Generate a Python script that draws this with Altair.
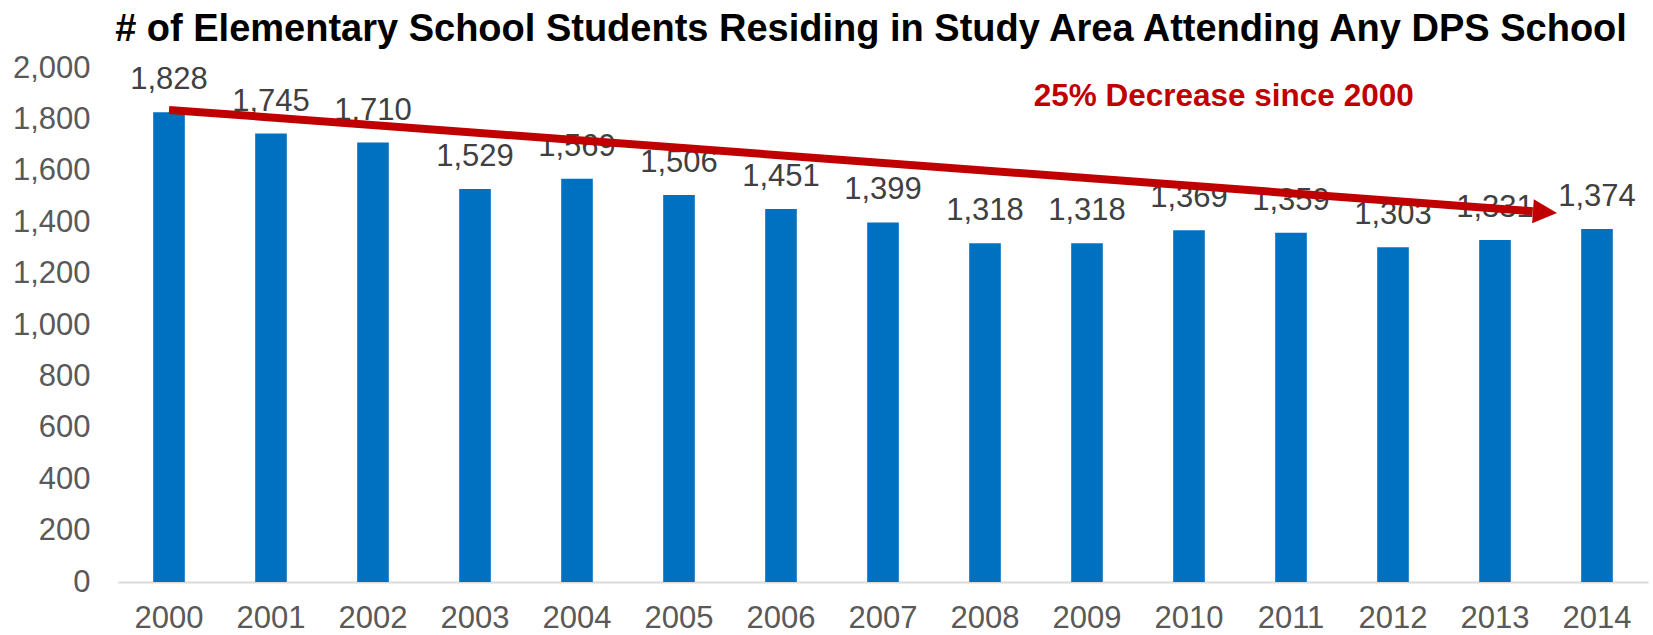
import altair as alt
import pandas as pd

# ---- data ----
years = [str(y) for y in range(2000, 2015)]
students = [1828, 1745, 1710, 1529, 1569, 1506, 1451, 1399, 1318, 1318,
            1369, 1359, 1303, 1331, 1374]
y_ticks = [0, 200, 400, 600, 800, 1000, 1200, 1400, 1600, 1800, 2000]

# annotation (trend arrow) in data units: x is category index (0..15)
arrow_x = [0.5, 13.87]
arrow_y = [1837, 1443]
head_x = [13.99]
head_y = [1439]
note_text = ["25% Decrease since 2000"]
note_x = [10.84]
note_y = [1887]

title_text = "# of Elementary School Students Residing in Study Area Attending Any DPS School"

FONT = "Liberation Sans"

bars_df = pd.DataFrame({"year": years, "students": students})
arrow_df = pd.DataFrame({"ix": arrow_x, "val": arrow_y})
head_df = pd.DataFrame({"ix": head_x, "val": head_y})
note_df = pd.DataFrame({"ix": note_x, "val": note_y, "txt": note_text})

yscale = alt.Scale(domain=[0, 2000], nice=False, zero=True)
xq = alt.Scale(domain=[0, 15], nice=False, zero=False)
yaxis = alt.Axis(title=None, values=y_ticks, format=",d", grid=False, domain=False,
                 ticks=False, labelFont=FONT, labelFontSize=31,
                 labelColor="#595959", labelPadding=28)

base = alt.Chart(bars_df)

bars = base.mark_bar(color="#0070C0").encode(
    x=alt.X("year:N", sort=years,
            scale=alt.Scale(paddingInner=0.69, paddingOuter=0.345),
            axis=alt.Axis(title=None, labelAngle=0, labelFont=FONT, labelFontSize=31,
                          labelColor="#595959", ticks=False, domainColor="#D9D9D9",
                          domainWidth=2, labelPadding=21)),
    y=alt.Y("students:Q", scale=yscale, axis=yaxis),
)

labels = base.mark_text(baseline="bottom", dy=-16, font=FONT, fontSize=31,
                        color="#404040").encode(
    x=alt.X("year:N", sort=years),
    y=alt.Y("students:Q", scale=yscale, axis=yaxis),
    text=alt.Text("students:Q", format=","),
)

arrow_line = alt.Chart(arrow_df).mark_line(color="#C00000", strokeWidth=8,
                                           strokeCap="butt").encode(
    x=alt.X("ix:Q", scale=xq, axis=None),
    y=alt.Y("val:Q", scale=yscale, axis=yaxis),
)

arrow_head = alt.Chart(head_df).mark_point(
    shape="M-1,-1L1,0L-1,1Z", filled=True, color="#C00000", opacity=1,
    size=580, angle=4, strokeWidth=0).encode(
    x=alt.X("ix:Q", scale=xq, axis=None),
    y=alt.Y("val:Q", scale=yscale, axis=yaxis),
)

note = alt.Chart(note_df).mark_text(font=FONT, fontSize=31.5, fontWeight="bold",
                                    color="#C00000", baseline="middle").encode(
    x=alt.X("ix:Q", scale=xq, axis=None),
    y=alt.Y("val:Q", scale=yscale, axis=yaxis),
    text="txt:N",
)

bar_layer = alt.layer(bars, labels)
ann_layer = alt.layer(arrow_line, arrow_head, note)

chart = alt.layer(bar_layer, ann_layer).resolve_scale(x="independent").properties(
    width=1530, height=514,
    background="white",
    title=alt.TitleParams(title_text, font=FONT, fontSize=38, fontWeight="bold",
                          color="#000000", anchor="middle", offset=3, dx=-12),
    autosize=alt.AutoSizeParams(type="none"),
    padding={"left": 118, "top": 68, "right": 5, "bottom": 53},
).configure_view(stroke="transparent", strokeWidth=0)

chart.save("out.html", embed_options={"renderer": "svg", "actions": False})
